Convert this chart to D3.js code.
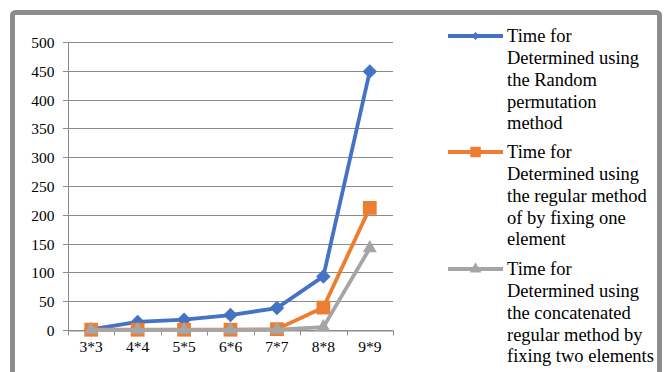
<!DOCTYPE html>
<html>
<head>
<meta charset="utf-8">
<script src="https://cdn.jsdelivr.net/npm/d3@7"></script>
<style>
  body { margin: 0; background: #fff; }
  svg { display: block; font-family: "Liberation Serif", "Times New Roman", serif; }
</style>
</head>
<body>
<div class="holder"></div>
<script>
// categories and series
var sizes = ["3*3", "4*4", "5*5", "6*6", "7*7", "8*8", "9*9"]
var randomPerm = [1, 14, 18, 26, 38, 93, 449]
var fixOne = [0.5, 0.5, 0.5, 0.5, 1.5, 39, 212]
var fixTwo = [0.2, 0.2, 0.2, 0.2, 0.5, 5, 142]
var yTicks = [0, 50, 100, 150, 200, 250, 300, 350, 400, 450, 500]

var legendText = [
    ["Time for", "Determined using", "the Random", "permutation", "method"],
    ["Time for", "Determined using", "the regular method", "of by fixing one", "element"],
    ["Time for", "Determined using", "the concatenated", "regular method by", "fixing two elements"]
]

var width = 670,
    height = 372;

var svg = d3.select(".holder").append("svg")
    .attr("width", width)
    .attr("height", height)

// outer frame
svg.append("rect")
    .attr("x", 12.5)
    .attr("y", 12.5)
    .attr("width", 647)
    .attr("height", 370)
    .attr("rx", 3)
    .style("fill", "white")
    .style("stroke", "#8c8c8c")
    .style("stroke-width", 5)

var x = d3.scaleBand().domain(sizes).range([68, 393])
var y = d3.scaleLinear().domain([0, 500]).range([330, 42])

// gridlines
svg.append("g")
    .selectAll("line")
    .data(yTicks)
    .enter().append("line")
    .attr("x1", 63)
    .attr("x2", 393)
    .attr("y1", d => Math.round(y(d)) + 0.5)
    .attr("y2", d => Math.round(y(d)) + 0.5)
    .style("stroke", "#8c8c8c")
    .style("stroke-width", 1)

// y axis
var yAxis = svg.append("g")
    .attr("transform", "translate(68.5,0.5)")
    .call(d3.axisLeft(y).tickValues(yTicks).tickSize(5).tickPadding(9))
yAxis.select(".domain").attr("stroke", "#8c8c8c").attr("d", "M0," + Math.round(y(500)) + "V" + Math.round(y(0)))
yAxis.selectAll(".tick line").remove()
yAxis.selectAll("text")
    .attr("font-family", "Liberation Serif")
    .attr("font-size", 15.5)
    .attr("fill", "#000")

// x axis
var xAxis = svg.append("g")
    .attr("transform", "translate(0," + (Math.round(y(0)) + 0.5) + ")")
    .call(d3.axisBottom(x).tickSize(0).tickPadding(10))
xAxis.select(".domain").attr("stroke", "#8c8c8c")
xAxis.selectAll("text")
    .attr("font-family", "Liberation Serif")
    .attr("font-size", 15.5)
    .attr("fill", "#000")
// tick marks between categories
xAxis.selectAll(".sep")
    .data(sizes.concat(["end"]))
    .enter().append("line")
    .attr("class", "sep")
    .attr("x1", (d, i) => Math.round(68 + i * x.bandwidth()) + 0.5)
    .attr("x2", (d, i) => Math.round(68 + i * x.bandwidth()) + 0.5)
    .attr("y1", 0)
    .attr("y2", 5)
    .attr("stroke", "#8c8c8c")

// diamond = square turned 45 degrees
var series = [
    {name: "random", values: randomPerm, color: "#4472C4", symbol: d3.symbolSquare, rot: 45, size: 105, lsize: 34},
    {name: "one", values: fixOne, color: "#ED7D31", symbol: d3.symbolSquare, rot: 0, size: 190, lsize: 110},
    {name: "two", values: fixTwo, color: "#A5A5A5", symbol: d3.symbolTriangle, rot: 0, size: 85, lsize: 60}
]

var line = d3.line()
    .x((d, i) => x(sizes[i]) + x.bandwidth() / 2)
    .y(d => y(d))

series.forEach(function(s) {
    svg.append("path")
        .datum(s.values)
        .attr("d", line)
        .style("fill", "none")
        .style("stroke", s.color)
        .style("stroke-width", 3.8)
        .style("stroke-linejoin", "round")

    svg.selectAll(".m-" + s.name)
        .data(s.values)
        .enter().append("path")
        .attr("class", "m-" + s.name)
        .attr("transform", (d, i) => "translate(" + (x(sizes[i]) + x.bandwidth() / 2) + "," + y(d) + ") rotate(" + s.rot + ")")
        .attr("d", d3.symbol().type(s.symbol).size(s.size))
        .style("fill", s.color)
})

// legend
var legendY = [36, 152, 269]
var legend = svg.append("g")
series.forEach(function(s, k) {
    var g = legend.append("g").attr("transform", "translate(0," + legendY[k] + ")")
    g.append("line")
        .attr("x1", 448)
        .attr("x2", 503)
        .attr("y1", 0)
        .attr("y2", 0)
        .style("stroke", s.color)
        .style("stroke-width", 3.8)
    g.append("path")
        .attr("transform", "translate(475.5,0) rotate(" + s.rot + ")")
        .attr("d", d3.symbol().type(s.symbol).size(s.lsize))
        .style("fill", s.color)
    g.selectAll("text")
        .data(legendText[k])
        .enter().append("text")
        .attr("x", 507)
        .attr("y", (d, i) => i * 21.7)
        .attr("dy", "0.35em")
        .attr("font-size", 18.5)
        .text(d => d)
})
</script>
</body>
</html>
